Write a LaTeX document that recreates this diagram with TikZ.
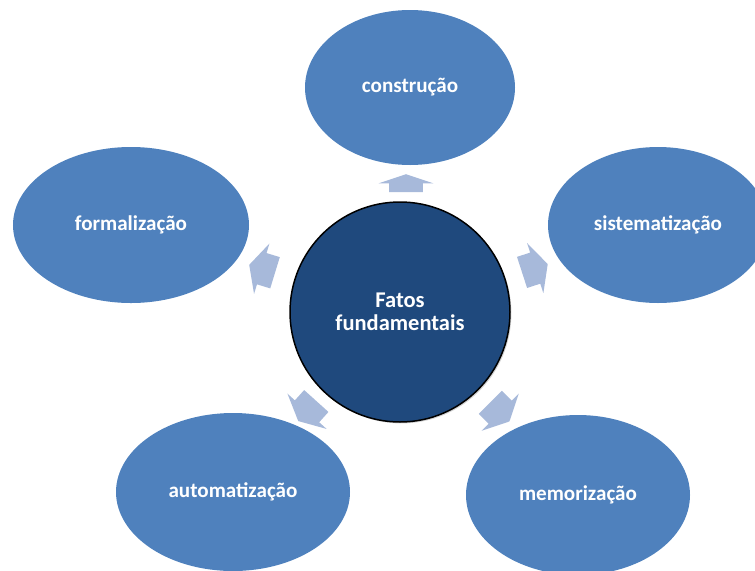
\documentclass[tikz,border=0pt]{standalone}
\usepackage{fontspec}
\setsansfont{Carlito}
\usetikzlibrary{shapes.geometric,shapes.arrows,shadows}
\tikzset{every picture/.style={/utils/exec={\sffamily}}}
\definecolor{ellblue}{HTML}{4F81BD}
\definecolor{hubblue}{HTML}{1F497D}
\definecolor{arrowblue}{HTML}{A7B9DA}

\begin{document}
\begin{tikzpicture}[
		stage/.style={ellipse, fill=ellblue, draw=none, text=white, inner sep=0pt,
			font=\bfseries\fontsize{12}{14}\selectfont},
		hub/.style={circle, fill=hubblue, draw=black, line width=0.85pt, text=white,
			align=center, inner sep=0pt, minimum size=4.4cm,
			font=\bfseries\fontsize{12.8}{13.1}\selectfont,
			drop shadow={shadow xshift=0.8pt, shadow yshift=-0.8pt, opacity=0.35}},
		outarrow/.style={single arrow, fill=arrowblue, draw=none, inner xsep=0pt,
			inner ysep=0.32cm, single arrow head extend=0.2cm,
			single arrow tip angle=127, minimum height=0.54cm}
	]
		\useasboundingbox (0, 0) rectangle (15.1, -11.4);

		\node[hub] (fatos) at (8.0, -6.24) {Fatos\\fundamentais};

		\node[stage, minimum width=4.2cm, minimum height=3.1cm] (construcao) at (8.2, -1.75) {construção};
		\node[stage, minimum width=4.4cm, minimum height=3.12cm] (sistematizacao) at (13.16, -4.5) {sistematização};
		\node[stage, minimum width=4.48cm, minimum height=3.2cm] (memorizacao) at (11.56, -9.9) {memorização};
		\node[stage, minimum width=4.68cm, minimum height=3.16cm] (automatizacao) at (4.66, -9.84) {automatização};
		\node[stage, minimum width=4.72cm, minimum height=3.12cm] (formalizacao) at (2.62, -4.5) {formalização};

		% arrows out of the hub
		\node[outarrow, rotate=90, minimum height=0.36cm, single arrow tip angle=143,
			inner ysep=0.33cm, single arrow head extend=0.21cm] (toconstrucao) at (8.12, -3.72) {};
		\node[outarrow, rotate=18] (tosistematizacao) at (10.62, -5.39) {};
		\node[outarrow, rotate=-45] (tomemorizacao) at (9.94, -8.18) {};
		\node[outarrow, rotate=228] (toautomatizacao) at (6.2, -8.16) {};
		\node[outarrow, rotate=163] (toformalizacao) at (5.32, -5.4) {};
	\end{tikzpicture}
\end{document}
